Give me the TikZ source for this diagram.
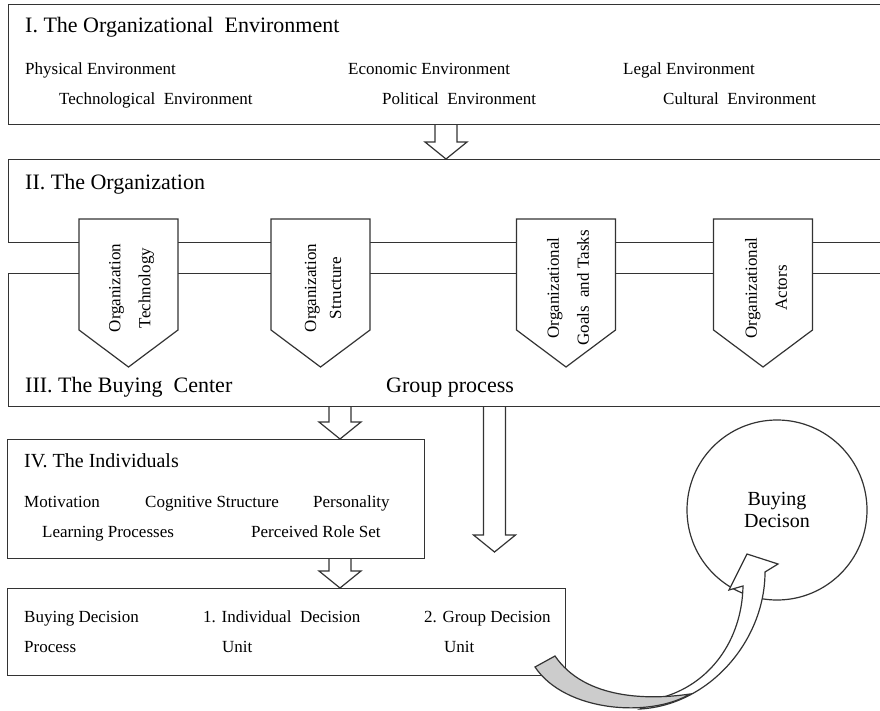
\documentclass[tikz,border=0pt]{standalone}
\usepackage{fontspec}
\setmainfont{Liberation Serif}
\usetikzlibrary{calc}

\tikzset{
  box/.style={draw=black!80,line width=1.2pt,anchor=north west,inner sep=0pt},
  title/.style={anchor=base west,inner sep=0pt,font=\fontsize{22}{26}\selectfont},
  item/.style={anchor=base west,inner sep=0pt,font=\fontsize{17}{20}\selectfont},
  pent/.style={draw=black!80,line width=1.2pt,fill=white},
  pentlabel/.style={rotate=90,align=center,inner sep=0pt,font=\fontsize{17}{30}\selectfont},
  hollow/.style={draw=black!80,line width=1.2pt,line join=miter},
  goal/.style={draw=black!80,line width=1.2pt,circle,minimum size=180pt,inner sep=0pt,align=center,font=\fontsize{20}{22}\selectfont}
}

% hollow block arrow: x position, source node, target point
\newcommand\blockarrow[3]{%
  \draw[hollow] let \p1=(#2.south), \p2=(#3) in
    (#1-11,\y1) -- (#1-11,\y2+17) -- (#1-21,\y2+17) -- (#1,\y2)
    -- (#1+21,\y2+17) -- (#1+11,\y2+17) -- (#1+11,\y1);
}

\begin{document}
\begin{tikzpicture}[x=1pt,y=-1pt]
  \clip (0,0) rectangle (880,711);
  \fill[white] (0,0) rectangle (880,711);

  % I. environment
  \node[box,minimum width=876pt,minimum height=120pt] (env) at (8,4) {};
  \node[title] (envtitle) at (25,33) {I. The Organizational\ \ Environment};
  \node[item] (phys) at (25,75) {Physical Environment};
  \node[item] (econ) at (348,75) {Economic Environment};
  \node[item] (legal) at (623,75) {Legal Environment};
  \node[item] (techenv) at (59,105) {Technological\ \ Environment};
  \node[item] (polit) at (382,105) {Political\ \ Environment};
  \node[item] (cult) at (663,105) {Cultural\ \ Environment};

  % II. organization and III. buying center
  \node[box,minimum width=876pt,minimum height=83pt] (org) at (8,159) {};
  \node[title] (orgtitle) at (25,190) {II. The Organization};
  \node[box,minimum width=876pt,minimum height=133pt] (bc) at (8,273) {};
  \node[title] (bctitle) at (25,392) {III. The Buying\ \ Center};
  \node[title] (group) at (386,392) {Group process};

  \foreach \cx in {128.5,320.5,566,763}
    \draw[pent] (\cx-49.5,219) -- (\cx+49.5,219) -- (\cx+49.5,330)
      -- (\cx,367) -- (\cx-49.5,330) -- cycle;
  \node[pentlabel] (tech) at (131.5,288) {Organization\\Technology};
  \node[pentlabel] (struct) at (323,288) {Organization\\[-5pt]Structure};
  \node[pentlabel] (goals) at (568,288) {Organizational\\Goals\ \ and Tasks};
  \node[pentlabel] (actors) at (766,288) {Organizational\\Actors};

  % IV. individuals
  \node[box,minimum width=417pt,minimum height=119pt] (indiv) at (7,439) {};
  \node[title,font=\fontsize{20}{24}\selectfont] (indivtitle) at (24,467) {IV. The Individuals};
  \node[item] (motiv) at (24,507) {Motivation};
  \node[item] (cogn) at (145,507) {Cognitive Structure};
  \node[item] (pers) at (313,507) {Personality};
  \node[item] (learn) at (42,537) {Learning Processes};
  \node[item] (role) at (251,537) {Perceived Role Set};

  % decision process
  \node[box,minimum width=558pt,minimum height=87pt] (proc) at (7,588) {};
  \node[item] (bdp) at (24,622) {Buying Decision};
  \node[item] (bdp2) at (24,652) {Process};
  \node[item] (idu) at (203,622) {1. Individual\ \ Decision};
  \node[item] (idu2) at (222,652) {Unit};
  \node[item] (gdu) at (424,622) {2. Group Decision};
  \node[item] (gdu2) at (444,652) {Unit};

  % block arrows
  \coordinate (gpend) at (494.5,552);
  \blockarrow{446}{env}{org.north}
  \blockarrow{340}{bc}{indiv.north}
  \blockarrow{494.5}{bc}{gpend}
  \blockarrow{340}{indiv}{proc.north}

  % outcome
  \node[goal] (decision) at (777,510) {Buying\\Decison};

  % curved ribbon arrow
  \draw[hollow,fill=white] (640,709) .. controls (710,705) and (765,640) .. (765,572)
    -- (778,564) -- (747,554) -- (729,590) -- (743,586)
    .. controls (742,640) and (710,685) .. (660,698) -- cycle;
  \draw[hollow,fill=gray!40] (535,667) .. controls (565,712) and (650,718) .. (690,694)
    .. controls (650,700) and (585,700) .. (555,656) -- cycle;
\end{tikzpicture}
\end{document}
